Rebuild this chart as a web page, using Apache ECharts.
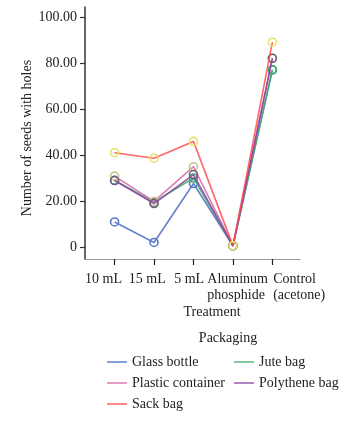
<!DOCTYPE html>
<html>
<head>
<meta charset="utf-8">
<script src="https://cdn.jsdelivr.net/npm/echarts@6/dist/echarts.min.js"></script>
<style>
  html, body { margin: 0; padding: 0; background: #fff; }
  #chart { width: 354px; height: 426px; }
</style>
</head>
<body>
<div id="chart"></div>
<script>
// categories on the x axis (placed by index on a value axis)
const treatments = ['10 mL', '15 mL', '5 mL', 'Aluminum\nphosphide', 'Control\n(acetone)'];
const tickPos = [0, 1, 2, 3, 4];
// the labels sit a little off their ticks in the original
const labelPos = [-0.28, 0.83, 1.89, 3.12, 4.68];
const yTicks = [0, 20, 40, 60, 80, 100];

// number of seeds with holes, per packaging
const seriesNames = ['Glass bottle', 'Jute bag', 'Plastic container', 'Polythene bag', 'Sack bag'];
const glassBottle = [10.9, 2.0, 27.6, 0.5, 77.0];
const juteBag = [29.0, 19.5, 30.0, 0.5, 77.0];
const plasticContainer = [30.8, 19.8, 34.9, 0.5, 82.0];
const polytheneBag = [28.9, 18.9, 31.5, 0.5, 82.0];
const sackBag = [41.0, 38.6, 45.9, 0.5, 89.0];

const lineColors = ['#4a6bc2', '#3fae68', '#d66aa6', '#8a3fa6', '#ff4b4b'];
const markerColors = ['#5a78c8', '#3fae68', '#c9c48c', '#6f5a80', '#e8e26a'];
const allValues = [glassBottle, juteBag, plasticContainer, polytheneBag, sackBag];

const font = 'Liberation Serif, Times New Roman, serif';

const chart = echarts.init(document.getElementById('chart'));

const series = seriesNames.map((name, i) => ({
    name: name,
    type: 'line',
    data: allValues[i].map((v, j) => [tickPos[j], v]),
    symbol: 'circle',
    symbolSize: 8,
    lineStyle: { color: lineColors[i], width: 1.6, opacity: 0.85 },
    itemStyle: { color: 'transparent', borderColor: markerColors[i], borderWidth: 1.6 },
    emphasis: { disabled: true },
    z: 2 + i
}));

function legendItem(i) {
    return {
        name: seriesNames[i],
        itemStyle: { color: lineColors[i], borderColor: lineColors[i], borderWidth: 0, opacity: 0.65 }
    };
}

// nearest label for a custom label value
function treatmentLabel(v) {
    let best = 0;
    labelPos.forEach((p, i) => {
        if (Math.abs(p - v) < Math.abs(labelPos[best] - v)) best = i;
    });
    return '{l|' + treatments[best].split('\n').join('}\n{l|') + '}';
}

const legendBase = {
    orient: 'vertical',
    icon: 'rect',
    itemWidth: 20,
    itemHeight: 2,
    itemGap: 5,
    textStyle: { fontFamily: font, fontSize: 14, color: '#222', lineHeight: 16 }
};

const option = {
    animation: false,
    textStyle: { fontFamily: font },
    grid: { left: 85, right: 54, top: 7, bottom: 167 },
    title: [
        {
            text: 'Treatment', left: 207, top: 300, textAlign: 'center',
            textStyle: { fontFamily: font, fontSize: 14, fontWeight: 'normal', color: '#222' }
        },
        {
            text: 'Packaging', left: 223, top: 326, textAlign: 'center',
            textStyle: { fontFamily: font, fontSize: 14, fontWeight: 'normal', color: '#222' }
        }
    ],
    graphic: [{
        type: 'text',
        x: 27, y: 138,
        rotation: Math.PI / 2,
        style: {
            text: 'Number of seeds with holes',
            fontFamily: font, fontSize: 14, fill: '#222',
            align: 'center', verticalAlign: 'middle'
        }
    }],
    legend: [
        Object.assign({}, legendBase, { left: 102, top: 349, data: [0, 2, 4].map(legendItem) }),
        Object.assign({}, legendBase, { left: 229, top: 349, data: [1, 3].map(legendItem) })
    ],
    xAxis: {
        type: 'value',
        min: -0.75,
        max: 4.7,
        splitLine: { show: false },
        axisLine: { show: true, onZero: false, lineStyle: { color: '#9a9a9a', width: 1.2 } },
        axisTick: { show: true, length: 6, customValues: tickPos, lineStyle: { color: '#222', width: 1.2 } },
        axisLabel: {
            customValues: labelPos,
            formatter: treatmentLabel,
            hideOverlap: false,
            showMinLabel: true,
            showMaxLabel: true,
            margin: 12,
            verticalAlign: 'top',
            rich: {
                l: { align: 'left', fontFamily: font, fontSize: 14, color: '#222', lineHeight: 16 }
            }
        }
    },
    yAxis: {
        type: 'value',
        min: -5.2,
        max: 104.3,
        splitLine: { show: false },
        axisLine: { show: true, onZero: false, lineStyle: { color: '#333', width: 1.5 } },
        axisTick: { show: true, length: 5, customValues: yTicks, lineStyle: { color: '#333', width: 1.2 } },
        axisLabel: {
            customValues: yTicks,
            formatter: v => (v === 0 ? '0' : v.toFixed(2)),
            fontFamily: font, fontSize: 14, color: '#222', margin: 8
        }
    },
    series: series
};

chart.setOption(option);
</script>
</body>
</html>
